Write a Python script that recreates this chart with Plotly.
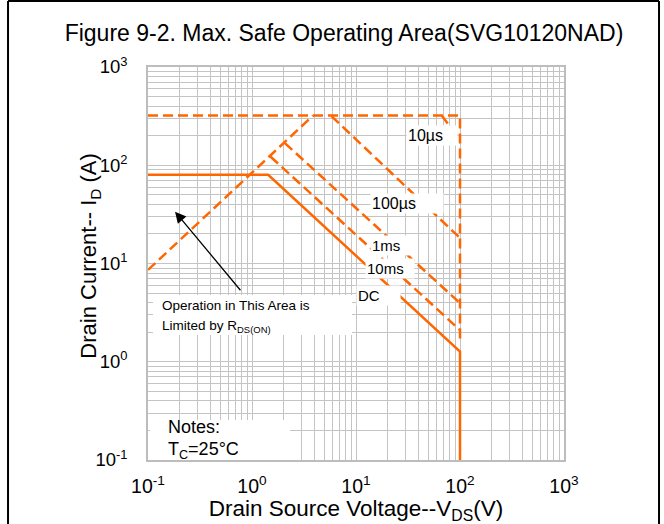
import math
import plotly.graph_objects as go

# ---------------- data (V in volts, I in amps) ----------------
rds_v = [0.1, 3.86]              # R_DS(on) limit line
rds_i = [8.6, 320]
limit_v = [0.1, 100, 100]        # current / voltage limit (10 µs envelope)
limit_i = [320, 320, 1.7]
us10_v = [66.7, 100]
us10_i = [320, 181]
us100_v = [5.83, 100]
us100_i = [315, 18.2]
ms1_v = [2.07, 100]
ms1_i = [168, 3.96]
ms10_v = [1.51, 100]
ms10_i = [122, 2.1]
dc_v = [0.1, 1.43, 100, 100]
dc_i = [80, 80, 1.27, 0.1]

tick_vals = [0.1, 1, 10, 100, 1000]
tick_text = ["10<sup>-1</sup>", "10<sup>0</sup>", "10<sup>1</sup>", "10<sup>2</sup>", "10<sup>3</sup>"]

ORANGE = "#FF6600"
FONT = "Liberation Sans, Arial, sans-serif"
GRID = "#c4c4c4"

fig = go.Figure()

dashed = dict(color=ORANGE, width=2.5, dash="10px,5px")
for vx, iy in [(rds_v, rds_i), (limit_v, limit_i), (us10_v, us10_i),
               (us100_v, us100_i), (ms1_v, ms1_i), (ms10_v, ms10_i)]:
    fig.add_trace(go.Scatter(x=vx, y=iy, mode="lines", line=dashed, hoverinfo="skip"))
fig.add_trace(go.Scatter(x=dc_v, y=dc_i, mode="lines",
                         line=dict(color=ORANGE, width=2.5), hoverinfo="skip"))

L = math.log10

# white text boxes (shapes use data values on log axes)
fig.add_shape(type="rect", xref="x", yref="y", x0=0.1117, x1=9.15, y0=1.87, y1=4.78,
              fillcolor="white", line=dict(width=0), layer="above")
fig.add_shape(type="rect", xref="x", yref="y", x0=0.1045, x1=2.32, y0=0.1, y1=0.255,
              fillcolor="white", line=dict(width=0), layer="above")

def label(text, v, i, size, width=None, anchor="center", bg="white"):
    fig.add_annotation(x=L(v), y=L(i), xref="x", yref="y", text=text, showarrow=False,
                       xanchor=anchor, yanchor="middle", align="left",
                       font=dict(size=size, family=FONT, color="black"),
                       bgcolor=bg, borderpad=1, width=width)

label("10µs", 53.5, 199, 16, width=48)
label("100µs", 30.7, 41, 16, width=70)
label("1ms", 21.2, 15.1, 15, width=36)
label("10ms", 21.2, 9.0, 15, width=46)
label("DC", 16.3, 4.78, 15, width=41)
label("Operation in This Area is", 0.130, 3.78, 13.5, anchor="left", bg="rgba(0,0,0,0)")
label("Limited by R<sub>DS(ON)</sub>", 0.130, 2.31, 13.5, anchor="left", bg="rgba(0,0,0,0)")
label("Notes:", 0.149, 0.217, 18, anchor="left", bg="rgba(0,0,0,0)")
label("T<sub>C</sub>=25°C", 0.149, 0.126, 18, anchor="left", bg="rgba(0,0,0,0)")

# arrow
fig.add_annotation(x=L(0.182), y=L(33.7), xref="x", yref="y",
                   ax=L(0.796), ay=L(5.16), axref="x", ayref="y",
                   text="", showarrow=True, arrowhead=2, arrowsize=1.7,
                   arrowwidth=1.3, arrowcolor="black")

# y-axis title (placed as rotated text left of the tick labels)
fig.add_annotation(x=(90 - 148) / 416, y=0.52, xref="paper", yref="paper",
                   text="Drain Current-- I<sub>D</sub> (A)", textangle=-90, showarrow=False,
                   xanchor="center", yanchor="middle",
                   font=dict(size=22, family=FONT, color="black"))

# outer frame
for x0, y0, x1, y1 in [(-0.3365, 1.168, 1.2284, 1.168),
                       (-0.3365, -0.2, -0.3365, 1.168),
                       (1.2284, -0.2, 1.2284, 1.168)]:
    fig.add_shape(type="line", xref="paper", yref="paper", x0=x0, y0=y0, x1=x1, y1=y1,
                  line=dict(color="black", width=2))

axis_common = dict(
    type="log", range=[-1, 3], tickmode="array", tickvals=tick_vals, ticktext=tick_text,
    showgrid=True, gridcolor=GRID, gridwidth=1,
    minor=dict(dtick="D1", showgrid=True, gridcolor=GRID, gridwidth=1, ticks=""),
    showline=True, linecolor="#bdbdbd", linewidth=1.5, mirror=True,
    ticks="", zeroline=False,
)
fig.update_xaxes(**axis_common, ticklabelstandoff=8,
                 tickfont=dict(size=19.5, family=FONT, color="black"),
                 title=dict(text="Drain Source Voltage--V<sub>DS</sub>(V)",
                            font=dict(size=22.5, family=FONT, color="black"), standoff=0))
fig.update_yaxes(**axis_common, ticklabelstandoff=15,
                 tickfont=dict(size=18.5, family=FONT, color="black"))

fig.update_layout(
    width=664, height=524,
    margin=dict(l=148, r=100, t=67, b=64, autoexpand=False),
    paper_bgcolor="white", plot_bgcolor="white", showlegend=False,
    font=dict(family=FONT, color="black"),
    title=dict(text="Figure 9-2. Max. Safe Operating Area(SVG10120NAD)",
               x=344 / 664, xanchor="center", xref="container",
               y=1 - 33 / 524, yanchor="middle", yref="container",
               font=dict(size=23, family=FONT, color="black")),
)

fig.write_html("out.html")
